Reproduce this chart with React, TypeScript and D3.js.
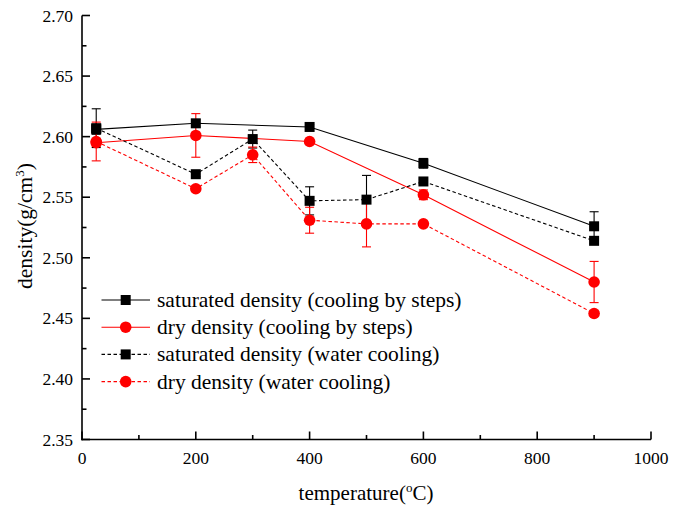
import React from "react";
import * as d3 from "d3";

const tempsSteps = [25, 200, 400, 600, 900];
const satSteps = [2.606, 2.611, 2.608, 2.578, 2.526];
const satStepsErr = [0.004, 0.003, 0.002, 0.004, 0.012];
const drySteps = [2.595, 2.601, 2.596, 2.552, 2.48];
const dryStepsErr = [0.003, 0.018, 0.002, 0.004, 0.017];

const tempsWater = [25, 200, 300, 400, 500, 600, 900];
const satWater = [2.607, 2.569, 2.598, 2.547, 2.548, 2.563, 2.514];
const satWaterErr = [0.016, 0.002, 0.0074, 0.0116, 0.02, 0.002, 0.002];
const dryWater = [2.596, 2.557, 2.585, 2.531, 2.528, 2.528, 2.454];
const dryWaterErr = [0.016, 0.002, 0.0064, 0.0107, 0.019, 0.002, 0.002];

const xTicks = [0, 200, 400, 600, 800, 1000];
const xMinor = [100, 300, 500, 700, 900];
const yTicks = [2.35, 2.4, 2.45, 2.5, 2.55, 2.6, 2.65, 2.7];
const yMinor = [2.375, 2.425, 2.475, 2.525, 2.575, 2.625, 2.675];

const legendLabels = [
  "saturated density (cooling by steps)",
  "dry density (cooling by steps)",
  "saturated density (water cooling)",
  "dry density (water cooling)",
];

const FONT = "Liberation Serif, DejaVu Serif, serif";

type Series = {
  xs: number[];
  ys: number[];
  err: number[];
  color: string;
  dashed: boolean;
  marker: "square" | "circle";
};

const series: Series[] = [
  { xs: tempsSteps, ys: satSteps, err: satStepsErr, color: "#000000", dashed: false, marker: "square" },
  { xs: tempsSteps, ys: drySteps, err: dryStepsErr, color: "#ff0000", dashed: false, marker: "circle" },
  { xs: tempsWater, ys: satWater, err: satWaterErr, color: "#000000", dashed: true, marker: "square" },
  { xs: tempsWater, ys: dryWater, err: dryWaterErr, color: "#ff0000", dashed: true, marker: "circle" },
];

function Marker({ kind, x, y, color }: { kind: string; x: number; y: number; color: string }) {
  if (kind === "square") {
    return <rect x={x - 5} y={y - 5} width={10} height={10} fill={color} />;
  }
  return <circle cx={x} cy={y} r={5.8} fill={color} />;
}

export default function App() {
  const W = 683;
  const H = 507;
  const x = d3.scaleLinear().domain([0, 1000]).range([82, 651]);
  const y = d3.scaleLinear().domain([2.35, 2.7]).range([439.5, 15.5]);
  const line = d3
    .line<[number, number]>()
    .x((d) => x(d[0]))
    .y((d) => y(d[1]));

  const x0 = x(0);
  const yb = y(2.35);

  return (
    <svg width={W} height={H} style={{ position: "absolute", left: 0, top: 0, background: "#fff", fontFamily: FONT }}>
      <rect x={0} y={0} width={W} height={H} fill="#fff" />
      {series.map((s, i) => (
        <path
          key={"l" + i}
          d={line(s.xs.map((t, j) => [t, s.ys[j]]) as [number, number][]) || ""}
          fill="none"
          stroke={s.color}
          strokeWidth={1.1}
          strokeDasharray={s.dashed ? "3.5,2.5" : undefined}
        />
      ))}
      {series.map((s, i) =>
        s.xs.map((t, j) => {
          const cx = x(t);
          const top = y(s.ys[j] + s.err[j]);
          const bot = y(s.ys[j] - s.err[j]);
          return (
            <g key={"e" + i + "-" + j} stroke={s.color} strokeWidth={1.1}>
              <line x1={cx} x2={cx} y1={top} y2={bot} />
              <line x1={cx - 4.5} x2={cx + 4.5} y1={top} y2={top} />
              <line x1={cx - 4.5} x2={cx + 4.5} y1={bot} y2={bot} />
            </g>
          );
        })
      )}
      {series.map((s, i) =>
        s.xs.map((t, j) => (
          <Marker key={"m" + i + "-" + j} kind={s.marker} x={x(t)} y={y(s.ys[j])} color={s.color} />
        ))
      )}
      <g stroke="#000" strokeWidth={1.6} fill="none">
        <line x1={x0} x2={x0} y1={y(2.7)} y2={yb + 0.8} />
        <line x1={x0 - 0.8} x2={x(1000)} y1={yb} y2={yb} />
        {yTicks.map((v) => (
          <line key={"yt" + v} x1={x0} x2={x0 + 8} y1={y(v)} y2={y(v)} />
        ))}
        {yMinor.map((v) => (
          <line key={"ym" + v} x1={x0} x2={x0 + 4.5} y1={y(v)} y2={y(v)} />
        ))}
        {xTicks.map((v) => (
          <line key={"xt" + v} x1={x(v)} x2={x(v)} y1={yb} y2={yb - 8} />
        ))}
        {xMinor.map((v) => (
          <line key={"xm" + v} x1={x(v)} x2={x(v)} y1={yb} y2={yb - 4.5} />
        ))}
      </g>
      {yTicks.map((v) => (
        <text key={"yl" + v} x={73} y={y(v)} dy="0.35em" textAnchor="end" fontSize={17.5} fill="#000">
          {v.toFixed(2)}
        </text>
      ))}
      {xTicks.map((v) => (
        <text key={"xl" + v} x={x(v)} y={464} textAnchor="middle" fontSize={17.5} fill="#000">
          {v}
        </text>
      ))}
      <text x={366} y={500} textAnchor="middle" fontSize={21} fill="#000">
        temperature(
        <tspan fontSize={13} dy={-8}>o</tspan>
        <tspan dy={8}>C)</tspan>
      </text>
      <text transform="translate(32,226) rotate(-90)" textAnchor="middle" fontSize={21.5} fill="#000">
        density(g/cm
        <tspan fontSize={13} dy={-8}>3</tspan>
        <tspan dy={8}>)</tspan>
      </text>
      {series.map((s, i) => {
        const ly = 300 + i * 27.2;
        return (
          <g key={"lg" + i}>
            <line
              x1={101.5}
              x2={150}
              y1={ly}
              y2={ly}
              stroke={s.color}
              strokeWidth={1.1}
              strokeDasharray={s.dashed ? "3.5,2.5" : undefined}
            />
            <Marker kind={s.marker} x={125.7} y={ly} color={s.color} />
            <text x={157} y={ly} dy="0.33em" fontSize={21.5} fill="#000">
              {legendLabels[i]}
            </text>
          </g>
        );
      })}
    </svg>
  );
}
